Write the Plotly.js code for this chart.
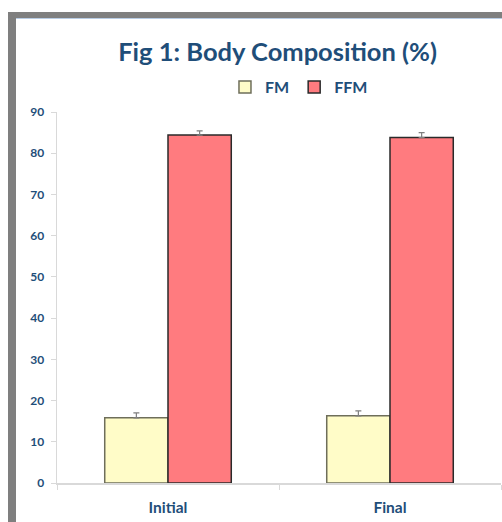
<!DOCTYPE html>
<html><head><meta charset="utf-8">
<script src="https://cdn.plot.ly/plotly-3.0.1.min.js"></script>
<style>
html,body{margin:0;padding:0;background:#fff;}
#frame{position:absolute;left:8px;top:12px;width:494px;height:510px;background:#7f7f7f;}
#inner{position:absolute;left:16px;top:18px;width:486px;height:504px;background:#fff;border-top:1px solid #b8cce4;box-sizing:border-box;}
#chart{position:absolute;left:0;top:0;width:502px;height:522px;}
</style></head>
<body>
<div id="frame"></div><div id="inner"></div>
<div id="chart"></div>
<script>
const categories = ["Initial", "Final"];
const fmValues = [15.8, 16.3];
const fmErrors = [1.2, 1.2];
const ffmValues = [84.4, 83.8];
const ffmErrors = [1.0, 1.2];
const seriesNames = ["FM", "FFM"];

const blue = "#1f4e79";
const font = "Lato, 'Open Sans', sans-serif";

const traces = [
  {type:"bar", name:seriesNames[0], x:categories, y:fmValues,
   marker:{color:"#fffcc8", line:{color:"#6e6e5a", width:1.5}},
   error_y:{type:"data", array:fmErrors, arrayminus:[0,0], symmetric:false, color:"#7f7f7f", thickness:1.2, width:3}},
  {type:"bar", name:seriesNames[1], x:categories, y:ffmValues,
   marker:{color:"#ff7b7f", line:{color:"#2a2a2a", width:1.5}},
   error_y:{type:"data", array:ffmErrors, arrayminus:[0,0], symmetric:false, color:"#7f7f7f", thickness:1.2, width:3}}
];

const layout = {
  width:502, height:522,
  paper_bgcolor:"rgba(0,0,0,0)", plot_bgcolor:"rgba(0,0,0,0)",
  margin:{l:57, r:1, t:112, b:39},
  barmode:"group", bargap:0.43, bargroupgap:0,
  title:{text:"<b>Fig 1: Body Composition (%)</b>", x:0.553, xanchor:"center", y:0.9, yanchor:"middle",
         font:{family:font, size:25.5, color:blue}},
  showlegend:true,
  legend:{orientation:"h", x:0.545, xanchor:"center", y:1.067, yanchor:"middle",
          font:{family:font, size:16, color:blue, weight:"bold"}, itemwidth:30, tracegroupgap:0},
  xaxis:{showline:true, linecolor:"#d9d9d9", linewidth:1.5, ticks:"outside", tickson:"boundaries",
         ticklen:5, tickcolor:"#d9d9d9", showgrid:false, ticklabelstandoff:10,
         tickfont:{family:font, size:15.5, color:blue, weight:"bold"}, fixedrange:true},
  yaxis:{range:[0,90], dtick:10, showline:true, linecolor:"#d9d9d9", linewidth:1.5, ticks:"outside",
         ticklen:5, tickcolor:"#d9d9d9", showgrid:false, zeroline:false, ticklabelstandoff:4,
         tickfont:{family:font, size:12, color:blue, weight:"bold"}, fixedrange:true}
};

Plotly.newPlot("chart", traces, layout, {displayModeBar:false, staticPlot:true});
</script>
</body></html>
